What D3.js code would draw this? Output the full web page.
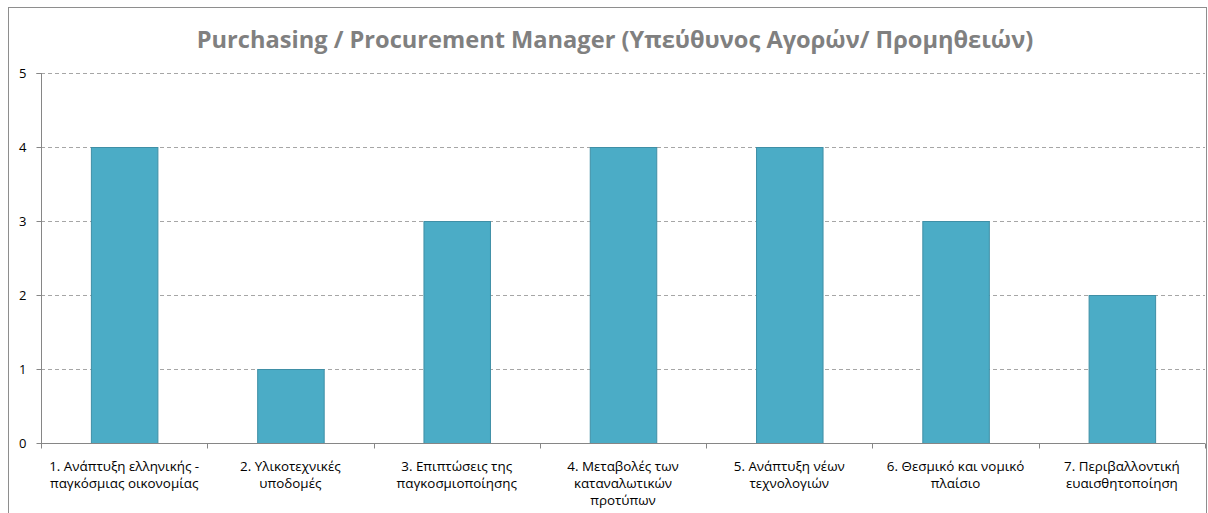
<!DOCTYPE html>
<html><head><meta charset="utf-8">
<script src="https://cdn.jsdelivr.net/npm/d3@7"></script>
<style>
body{margin:0;background:#fff;}
svg{display:block;}
</style></head>
<body><svg id="chart" width="1208" height="513"></svg>
<script>
const title = "Purchasing / Procurement Manager (Υπεύθυνος Αγορών/ Προμηθειών)";
const categories = [
  "1. Ανάπτυξη ελληνικής - παγκόσμιας οικονομίας",
  "2. Υλικοτεχνικές υποδομές",
  "3. Επιπτώσεις της παγκοσμιοποίησης",
  "4. Μεταβολές των καταναλωτικών προτύπων",
  "5. Ανάπτυξη νέων τεχνολογιών",
  "6. Θεσμικό και νομικό πλαίσιο",
  "7. Περιβαλλοντική ευαισθητοποίηση"
];
const values = [4, 1, 3, 4, 4, 3, 2];
const yTicks = [0, 1, 2, 3, 4, 5];

const svg = d3.select("#chart");
const font = "'Open Sans', 'Noto Sans', sans-serif";

// outer border
svg.append("rect").attr("x", 8.5).attr("y", 7.5).attr("width", 1198).attr("height", 520)
  .attr("fill", "#fff").attr("stroke", "#8e8e8e").attr("stroke-width", 1);

const m = {left: 41, right: 1205, top: 73, bottom: 443};
const x = d3.scaleBand().domain(categories).range([m.left, m.right]).paddingInner(0.6).paddingOuter(0.3);
const xb = d3.scaleBand().domain(categories).range([m.left, m.right]).padding(0);
const y = d3.scaleLinear().domain([0, 5]).range([m.bottom, m.top]);

// title
const t = svg.append("text").attr("x", 615).attr("y", 48).attr("text-anchor", "middle")
  .attr("font-family", font).attr("font-weight", "bold").attr("font-size", 20)
  .attr("fill", "#808080").text(title);
const tw = t.node().getComputedTextLength();
t.attr("font-size", 20 * 837 / tw);

// gridlines
svg.append("g").selectAll("line").data(yTicks.filter(d => d > 0)).join("line")
  .attr("x1", m.left).attr("x2", m.right)
  .attr("y1", d => Math.round(y(d)) + 0.5).attr("y2", d => Math.round(y(d)) + 0.5)
  .attr("stroke", "#a6a6a6").attr("stroke-dasharray", "4,3").attr("stroke-width", 1);

// bars
svg.append("g").selectAll("rect").data(values).join("rect")
  .attr("x", (d, i) => x(categories[i]) + 0.5)
  .attr("y", d => Math.round(y(d)) + 0.5)
  .attr("width", x.bandwidth())
  .attr("height", d => Math.round(y(0)) - Math.round(y(d)))
  .attr("fill", "#4BACC6").attr("stroke", "#3F8FA6").attr("stroke-width", 1);

// y axis
const yAxis = svg.append("g").attr("transform", `translate(${m.left + 0.5},0)`)
  .call(d3.axisLeft(y).tickValues(yTicks).tickSize(5).tickPadding(10).tickFormat(d3.format("d")));
yAxis.select(".domain").attr("stroke", "#868686").attr("d", `M-5,${m.top + 0.5}H0V${m.bottom + 0.5}`);
yAxis.selectAll(".tick line").attr("stroke", "#868686");
yAxis.selectAll(".tick text").attr("font-family", font).attr("font-size", 13).attr("fill", "#000");

// x axis
const xAxisG = svg.append("g").attr("transform", `translate(0,${m.bottom + 0.5})`);
xAxisG.append("line").attr("x1", m.left).attr("x2", m.right).attr("stroke", "#868686");
const bounds = categories.map(c => xb(c)).concat([m.right]);
xAxisG.selectAll("line.tk").data(bounds).join("line").attr("class", "tk")
  .attr("x1", d => Math.round(d) + 0.5).attr("x2", d => Math.round(d) + 0.5)
  .attr("y1", 0).attr("y2", 5).attr("stroke", "#868686");

// category labels with wrapping
const lab = svg.append("g").attr("font-family", font).attr("font-size", 13.4).attr("fill", "#000");
categories.forEach(c => {
  const cx = xb(c) + xb.bandwidth() / 2;
  const txt = lab.append("text").attr("text-anchor", "middle").attr("x", cx).attr("y", 471);
  const words = c.split(" ");
  let lines = [], cur = [];
  const probe = lab.append("text").attr("visibility", "hidden");
  words.forEach(w => {
    const test = cur.concat([w]).join(" ");
    probe.text(test);
    if (probe.node().getComputedTextLength() > 155 && cur.length) {
      lines.push(cur.join(" ")); cur = [w];
    } else cur.push(w);
  });
  lines.push(cur.join(" "));
  probe.remove();
  lines.forEach((l, i) => txt.append("tspan").attr("x", cx).attr("dy", i ? 17 : 0).text(l));
});
</script>
</body></html>
